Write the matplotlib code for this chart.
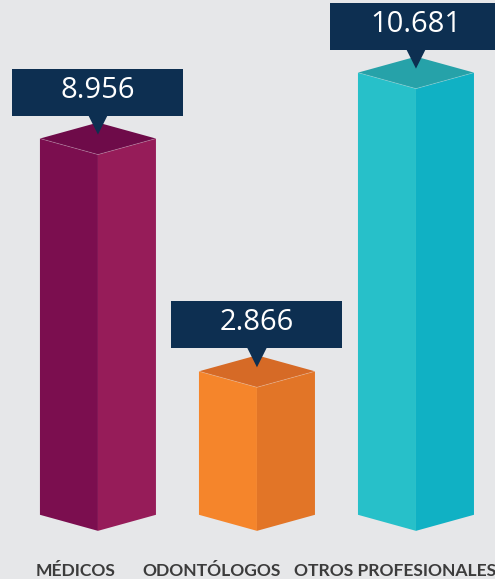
import matplotlib.pyplot as plt
from matplotlib.patches import Polygon, Rectangle

categories = ['MÉDICOS', 'ODONTÓLOGOS', 'OTROS PROFESIONALES']
values = [8956, 2866, 10681]
value_labels = ['8.956', '2.866', '10.681']

left_colors = ['#7b0e4f', '#f5852b', '#27c0c9']
right_colors = ['#961c59', '#e27527', '#10b1c4']
top_colors = ['#6e0b49', '#d66a26', '#26a2a9']
box_color = '#0d2f51'
bg = '#e6e7e9'

W, H = 495, 579
fig = plt.figure(figsize=(W / 100, H / 100), dpi=100, facecolor=bg)
ax = fig.add_axes([0, 0, 1, 1])
ax.set_facecolor(bg)
ax.set_xlim(-0.616, 2.497)
ax.set_ylim(-2150, 13000)
ax.axis('off')

# size of one pixel in data units
px_x = (2.497 + 0.616) / W
px_y = (13000 + 2150) / H

half_w = 58 * px_x
depth = 16 * px_y
side_bottom = -470
center_bottom = -890

for i, v in enumerate(values):
    cx = i
    # left face
    ax.add_patch(Polygon([(cx - half_w, v + depth), (cx - half_w, side_bottom),
                          (cx, center_bottom), (cx, v)],
                         closed=True, fc=left_colors[i], ec='none'))
    # right face
    ax.add_patch(Polygon([(cx, v), (cx, center_bottom), (cx + half_w, side_bottom),
                          (cx + half_w, v + depth)],
                         closed=True, fc=right_colors[i], ec='none'))
    # top face
    ax.add_patch(Polygon([(cx, v), (cx - half_w, v + depth), (cx, v + 2 * depth),
                          (cx + half_w, v + depth)],
                         closed=True, fc=top_colors[i], ec='none'))
    ax.plot([cx - half_w, cx, cx + half_w], [v + depth, v, v + depth],
            color='white', alpha=0.25, lw=0.6)

    # value box with pointer
    tip = v + 20 * px_y
    box_bottom = tip + 19 * px_y
    box_h = 47 * px_y
    box_w = 171 * px_x
    ax.add_patch(Rectangle((cx - box_w / 2, box_bottom), box_w, box_h,
                           fc=box_color, ec='none', zorder=3))
    ax.add_patch(Polygon([(cx - 10 * px_x, box_bottom + px_y), (cx + 10 * px_x, box_bottom + px_y),
                          (cx, tip)], closed=True, fc=box_color, ec='none', zorder=3))
    ax.text(cx, box_bottom + box_h / 2 + 2 * px_y, value_labels[i], color='white',
            fontsize=21, family='Open Sans', ha='center', va='center', zorder=4)

label_x = [76, 212, 395]
for lx, cat in zip(label_x, categories):
    fig.text(lx / W, 3 / H, cat, ha='center', va='baseline', fontsize=12.6,
             fontweight='bold', family='Lato', color='#3c3c3c')

fig.savefig('out.png', dpi=100, facecolor=bg)
